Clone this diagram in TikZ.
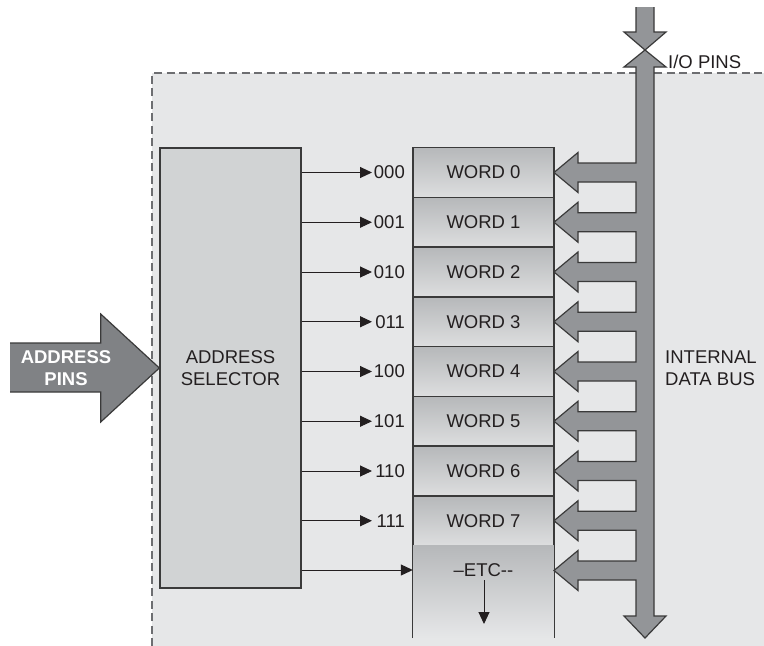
\documentclass[tikz,border=0pt]{standalone}
\usepackage{fontspec}
\setmainfont{Liberation Sans}
\usetikzlibrary{arrows.meta,shadings}
\definecolor{regionbg}{HTML}{E6E7E8}
\definecolor{selfill}{HTML}{D1D3D4}
\definecolor{wordtop}{HTML}{B6B8BA}
\definecolor{wordbot}{HTML}{DDDEDF}
\definecolor{busfill}{HTML}{939598}
\definecolor{pinfill}{HTML}{808285}
\definecolor{edge}{HTML}{3A3A3A}
\definecolor{dashcol}{HTML}{6D6E71}
\definecolor{ink}{HTML}{231F20}
\begin{document}
\begin{tikzpicture}[x=1pt,y=-1pt,
  font=\fontsize{18.5}{22}\selectfont,
  every node/.style={text=ink},
  edgeline/.style={draw=edge,line width=1.3pt},
  wordbox/.style={edgeline,top color=wordtop,bottom color=wordbot,
    minimum width=141pt,minimum height=49.75pt,inner sep=0pt},
  etcbox/.style={top color=wordtop,bottom color=regionbg,
    minimum width=141pt,minimum height=92.5pt,inner sep=0pt},
  selbox/.style={edgeline,fill=selfill,minimum width=141pt,
    minimum height=440pt,inner sep=0pt,align=center},
  code/.style={inner sep=1pt,anchor=east},
  selarrow/.style={draw=ink,line width=1pt,
    -{Triangle[length=12pt,width=11pt]}},
  busline/.style={draw=edge,line width=1.2pt,line join=miter}]

% page and the dashed chip outline
\useasboundingbox (0,0) rectangle (764,646);
\fill[white] (0,0) rectangle (764,646);
\fill[regionbg] (152,73) rectangle (764,646);
\draw[dashcol,line width=1.3pt,dash pattern=on 8pt off 4.5pt]
  (152,646) -- (152,73) -- (764,73);

% address selector
\node[selbox] (sel) at (230.5,368) {ADDRESS\\SELECTOR};

% memory words
\foreach \i in {0,...,7}
  \node[wordbox] (w\i) at (483.5,172.5+49.75*\i) {WORD \i};
\node[etcbox] (etc) at (483.5,591.75) {};
\draw[edgeline] (etc.south west) -- (etc.north west)
  (etc.north east) -- (etc.south east);
\node (etclbl) at (483.5,570) {\textendash ETC-{}-};
\coordinate (etcend) at (484,624);
\draw[selarrow] (etclbl.south -| etcend) -- (etcend);

% address lines
\coordinate (tip) at (372,0);
\foreach \i/\c in {0/000,1/001,2/010,3/011,4/100,5/101,6/110,7/111}{
  \node[code] (a\i) at (406,172.5+49.75*\i) {\c};
  \draw[selarrow] (sel.east |- a\i) -- (tip |- a\i);
}
\draw[selarrow] (sel.east |- etclbl) -- (etc.west |- etclbl);

% address pins block arrow
\fill[pinfill] (10,343) -- (100.7,343) -- (100.7,314) -- (sel.west)
  -- (100.7,422) -- (100.7,392) -- (10,392) -- cycle;
\draw[busline] (10,343) -- (100.7,343) -- (100.7,314) -- (sel.west)
  -- (100.7,422) -- (100.7,392) -- (10,392);
\node[text=white,font=\fontsize{18.5}{22}\selectfont\bfseries,align=center]
  (addr) at (66,368) {ADDRESS\\PINS};

% internal data bus with its branches
\def\buspath{(654,7) -- (654,32) -- (666,32) -- (645,50) -- (666,67)
  -- (654,67) -- (654,616) -- (666,616) -- (645,638) -- (624,616)
  -- (636,616)
  \foreach \y in {570.5,520.75,471,421.25,371.5,321.75,272,222.25,172.5}{
    -- (636,\y+9.5) -- (578,\y+9.5) -- (578,\y+20) -- (554,\y)
    -- (578,\y-20) -- (578,\y-9.5) -- (636,\y-9.5)}
  -- (636,67) -- (624,67) -- (645,50) -- (624,32) -- (636,32) -- (636,7)}
\fill[busfill] \buspath -- cycle;
\draw[busline] \buspath;

% bus labels
\node[anchor=west,inner sep=1pt] (io) at (667,62) {I/O PINS};
\node[anchor=west,align=left,inner sep=1pt] (idb) at (664,368)
  {INTERNAL\\DATA BUS};
\end{tikzpicture}
\end{document}
